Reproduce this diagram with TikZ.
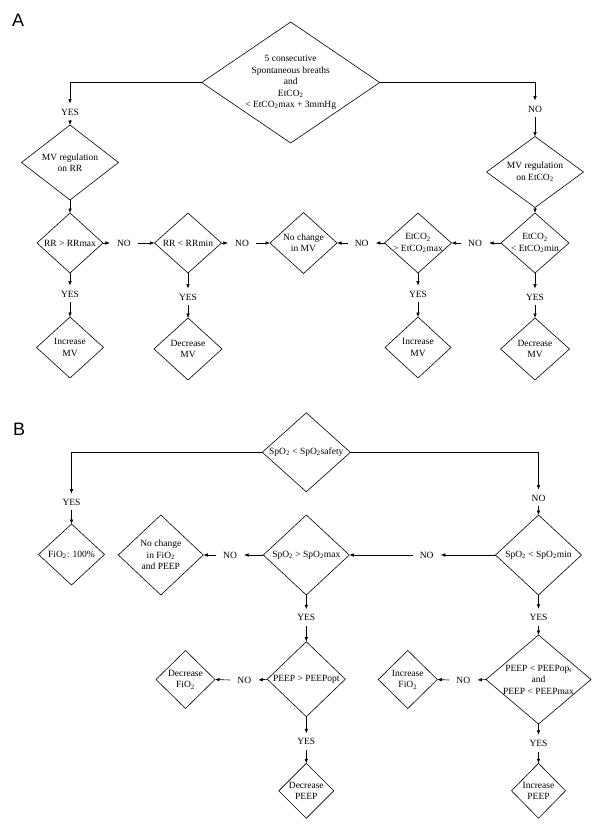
\documentclass[tikz,border=0pt]{standalone}
\usepackage{fontspec}
\setmainfont{Liberation Serif}
\newfontfamily\panelfont{Liberation Sans}
\usetikzlibrary{shapes.geometric,arrows.meta}
\newcommand\lsub[1]{\textsubscript{#1}}
\tikzset{
  every node/.style={font=\fontsize{9.5}{11.5}\selectfont},
  dia/.style={draw, diamond, inner sep=0pt, outer sep=0pt, line width=0.6pt},
  txt/.style={align=center, inner sep=0pt},
  lbl/.style={inner xsep=7pt, inner ysep=5pt, text height=6.5pt, text depth=0pt},
  arr/.style={line width=0.6pt, -{Latex[length=4.5pt,width=3.6pt]}},
  panel/.style={font=\panelfont\fontsize{18}{20}\selectfont, inner sep=0pt, anchor=base west}
}
\begin{document}
\begin{tikzpicture}[x=1pt,y=-1pt]
\useasboundingbox (0,0) rectangle (600,825);
% ---------------- Panel A ----------------
\node[panel] (pA) at (12,26) {A};
\node[dia, minimum width=178pt, minimum height=121pt] (topA) at (290.7,82.5) {};
\node[txt] (topA-t) at (topA) {5 consecutive\\Spontaneous breaths\\and\\EtCO\lsub{2}\\< EtCO\lsub{2}max + 3mmHg};
\node[lbl] (yesA0) at (70,112) {YES};
\node[lbl] (noA0) at (535,109) {NO};
\node[dia, minimum width=97pt, minimum height=75pt] (mvrr) at (70,162.5) {};
\node[txt] (mvrr-t) at (mvrr) {MV regulation\\on RR};
\node[dia, minimum width=97pt, minimum height=71pt] (mvet) at (535,172) {};
\node[txt] (mvet-t) at (mvet) {MV regulation\\on EtCO\lsub{2}};
\node[dia, minimum width=66pt, minimum height=60pt] (rrmax) at (70,243) {};
\node[txt] (rrmax-t) at (rrmax) {RR > RRmax};
\node[lbl] (noA1) at (124,243) {NO};
\node[dia, minimum width=67pt, minimum height=60pt] (rrmin) at (188,243) {};
\node[txt] (rrmin-t) at (rrmin) {RR < RRmin};
\node[lbl] (noA2) at (242,243) {NO};
\node[dia, minimum width=67pt, minimum height=61pt] (nochA) at (303.5,243) {};
\node[txt] (nochA-t) at (nochA) {No change\\in MV};
\node[lbl] (noA3) at (361.7,243) {NO};
\node[dia, minimum width=67pt, minimum height=60pt] (etmax) at (418,243) {};
\node[txt] (etmax-t) at (etmax) {EtCO\lsub{2}\\> EtCO\lsub{2}max};
\node[lbl] (noA4) at (475,243) {NO};
\node[dia, minimum width=68pt, minimum height=60pt] (etmin) at (535,243) {};
\node[txt] (etmin-t) at (etmin) {EtCO\lsub{2}\\< EtCO\lsub{2}min};
\node[lbl] (yesA1) at (70,294) {YES};
\node[lbl] (yesA2) at (188,297) {YES};
\node[lbl] (yesA3) at (418,294) {YES};
\node[lbl] (yesA4) at (535,297) {YES};
\node[dia, minimum width=67pt, minimum height=61pt] (incA1) at (70,347.5) {};
\node[txt] (incA1-t) at (incA1) {Increase\\MV};
\node[dia, minimum width=68pt, minimum height=62pt] (decA1) at (188,349) {};
\node[txt] (decA1-t) at (decA1) {Decrease\\MV};
\node[dia, minimum width=66pt, minimum height=61pt] (incA2) at (418,347.5) {};
\node[txt] (incA2-t) at (incA2) {Increase\\MV};
\node[dia, minimum width=69pt, minimum height=62pt] (decA2) at (535,349) {};
\node[txt] (decA2-t) at (decA2) {Decrease\\MV};
% connectors A
\draw[arr] (topA.west) -| (yesA0.north);
\draw[arr] (yesA0.south) -- (mvrr.north);
\draw[arr] (mvrr.south) -- (rrmax.north);
\draw[arr] (topA.east) -| (noA0.north);
\draw[arr] (noA0.south) -- (mvet.north);
\draw[arr] (mvet.south) -- (etmin.north);
\draw[arr] (rrmax.east) -- (noA1.west);
\draw[arr] (noA1.east) -- (rrmin.west);
\draw[arr] (rrmin.east) -- (noA2.west);
\draw[arr] (noA2.east) -- (nochA.west);
\draw[arr] (etmin.west) -- (noA4.east);
\draw[arr] (noA4.west) -- (etmax.east);
\draw[arr] (etmax.west) -- (noA3.east);
\draw[arr] (noA3.west) -- (nochA.east);
\draw[arr] (rrmax.south) -- (yesA1.north);
\draw[arr] (yesA1.south) -- (incA1.north);
\draw[arr] (rrmin.south) -- (yesA2.north);
\draw[arr] (yesA2.south) -- (decA1.north);
\draw[arr] (etmax.south) -- (yesA3.north);
\draw[arr] (yesA3.south) -- (incA2.north);
\draw[arr] (etmin.south) -- (yesA4.north);
\draw[arr] (yesA4.south) -- (decA2.north);
% ---------------- Panel B ----------------
\node[panel] (pB) at (13,435) {B};
\node[dia, minimum width=88pt, minimum height=79pt] (topB) at (306.3,452.3) {};
\node[txt] (topB-t) at (topB) {SpO\lsub{2} < SpO\lsub{2}safety};
\node[lbl] (yesB0) at (71.5,502) {YES};
\node[dia, minimum width=66pt, minimum height=61pt] (fio) at (71.5,554.5) {};
\node[txt] (fio-t) at (fio) {FiO\lsub{2}: 100\%};
\node[lbl] (noB0) at (538.5,498) {NO};
\node[dia, minimum width=86pt, minimum height=80pt] (spmin) at (538.5,555) {};
\node[txt] (spmin-t) at (spmin) {SpO\lsub{2} < SpO\lsub{2}min};
\node[lbl] (noB1) at (426.7,555) {NO};
\node[dia, minimum width=86pt, minimum height=80pt] (spmax) at (306.3,555) {};
\node[txt] (spmax-t) at (spmax) {SpO\lsub{2} > SpO\lsub{2}max};
\node[lbl] (noB2) at (230,555) {NO};
\node[dia, minimum width=85pt, minimum height=80pt] (nochB) at (160.8,555) {};
\node[txt] (nochB-t) at (nochB) {No change\\in FiO\lsub{2}\\and PEEP};
\node[lbl] (yesB1) at (306.3,617.7) {YES};
\node[dia, minimum width=78pt, minimum height=75pt] (popt) at (306.3,679.2) {};
\node[txt] (popt-t) at (popt) {PEEP > PEEPopt};
\node[lbl] (noB3) at (244.3,680) {NO};
\node[dia, minimum width=59pt, minimum height=58pt] (decfio) at (185.5,679.5) {};
\node[txt] (decfio-t) at (decfio) {Decrease\\FiO\lsub{2}};
\node[lbl] (yesB2) at (306.3,741.7) {YES};
\node[dia, minimum width=55pt, minimum height=55pt] (decpeep) at (306.3,790.8) {};
\node[txt] (decpeep-t) at (decpeep) {Decrease\\PEEP};
\node[lbl] (yesB3) at (538.5,617.3) {YES};
\node[dia, minimum width=105pt, minimum height=89pt] (pmax) at (538.5,679.5) {};
\node[txt] (pmax-t) at (pmax) {PEEP < PEEPop\lsub{t}\\and\\PEEP < PEEPmax};
\node[lbl] (noB4) at (463.3,680) {NO};
\node[dia, minimum width=59pt, minimum height=58pt] (incfio) at (407.8,679.5) {};
\node[txt] (incfio-t) at (incfio) {Increase\\FiO\lsub{2}};
\node[lbl] (yesB4) at (538.5,743.3) {YES};
\node[dia, minimum width=54pt, minimum height=55pt] (incpeep) at (538.5,790.8) {};
\node[txt] (incpeep-t) at (incpeep) {Increase\\PEEP};
% connectors B
\draw[arr] (topB.west) -| (yesB0.north);
\draw[arr] (yesB0.south) -- (fio.north);
\draw[arr] (topB.east) -| (noB0.north);
\draw[arr] (noB0.south) -- (spmin.north);
\draw[arr] (spmin.west) -- (noB1.east);
\draw[arr] (noB1.west) -- (spmax.east);
\draw[arr] (spmax.west) -- (noB2.east);
\draw[arr] (noB2.west) -- (nochB.east);
\draw[arr] (spmax.south) -- (yesB1.north);
\draw[arr] (yesB1.south) -- (popt.north);
\draw[arr] (popt.west) -- (noB3.east);
\draw[arr] (noB3.west) -- (decfio.east);
\draw[arr] (popt.south) -- (yesB2.north);
\draw[arr] (yesB2.south) -- (decpeep.north);
\draw[arr] (spmin.south) -- (yesB3.north);
\draw[arr] (yesB3.south) -- (pmax.north);
\draw[arr] (pmax.west) -- (noB4.east);
\draw[arr] (noB4.west) -- (incfio.east);
\draw[arr] (pmax.south) -- (yesB4.north);
\draw[arr] (yesB4.south) -- (incpeep.north);
\end{tikzpicture}
\end{document}
